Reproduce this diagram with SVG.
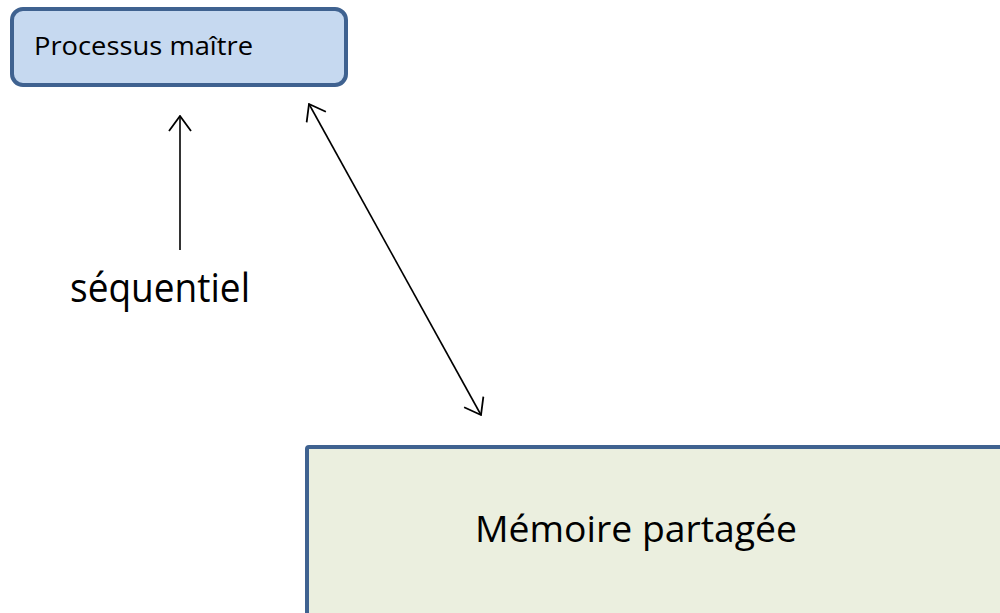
<svg xmlns="http://www.w3.org/2000/svg" width="1000" height="613" viewBox="0 0 1000 613">
  <style>
    .lbl { font-family: "Open Sans", "Liberation Sans", sans-serif; fill: #000; }
    .conn { stroke: #000; stroke-width: 1.6; fill: none; }
  </style>
  <defs>
    <marker id="open" viewBox="0 0 17 24" refX="16" refY="12" markerWidth="17" markerHeight="24" markerUnits="userSpaceOnUse" orient="auto-start-reverse">
      <path d="M1,1 L16,12 L1,23" fill="none" stroke="#000" stroke-width="1.8"/>
    </marker>
  </defs>
  <rect width="1000" height="613" fill="#fff"/>

  <g id="master">
    <rect x="12" y="9" width="334" height="76" rx="11" fill="#c6d9f0" stroke="#3f6290" stroke-width="4"/>
    <text class="lbl" x="34" y="55" font-size="25" textLength="219" lengthAdjust="spacingAndGlyphs">Processus maître</text>
  </g>

  <g id="shared-memory">
    <rect x="307" y="447" width="700" height="180" rx="2" fill="#ebefdf" stroke="#3f6290" stroke-width="4"/>
    <text class="lbl" x="475" y="542" font-size="36" textLength="322" lengthAdjust="spacingAndGlyphs">Mémoire partagée</text>
  </g>

  <g id="sequential-label">
    <text class="lbl" x="70" y="302" font-size="40" textLength="180" lengthAdjust="spacingAndGlyphs">séquentiel</text>
  </g>

  <g id="connectors">
    <line class="conn" x1="180" y1="250" x2="180" y2="116" marker-end="url(#open)"/>
    <line class="conn" x1="309" y1="104" x2="481" y2="415" marker-start="url(#open)" marker-end="url(#open)"/>
  </g>
</svg>
